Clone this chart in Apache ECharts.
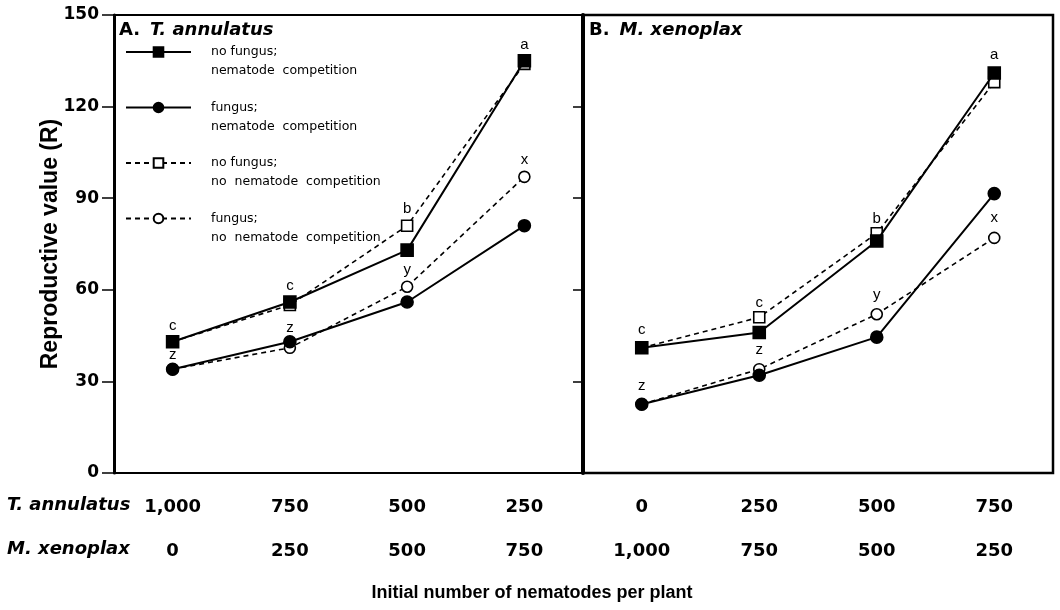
<!DOCTYPE html>
<html>
<head>
<meta charset="utf-8">
<script src="https://cdn.jsdelivr.net/npm/echarts@6/dist/echarts.min.js"></script>
<style>
html,body{margin:0;padding:0;background:#fff;}
#chart{width:1060px;height:610px;}
</style>
</head>
<body>
<div id="chart"></div>
<script>
// ---- data ----
var tAnnulatusA = ['1,000', '750', '500', '250'];
var mXenoplaxA = ['0', '250', '500', '750'];
var tAnnulatusB = ['0', '250', '500', '750'];
var mXenoplaxB = ['1,000', '750', '500', '250'];
var yTicks = [0, 30, 60, 90, 120, 150];

var seriesNames = [
  'no fungus;\nnematode  competition',
  'fungus;\nnematode  competition',
  'no fungus;\nno  nematode  competition',
  'fungus;\nno  nematode  competition'
];

// Panel A (T. annulatus)
var A_noFungusComp   = [43, 56, 73, 135];
var A_fungusComp     = [34, 43, 56, 81];
var A_noFungusNoComp = [43, 55, 81, 134];
var A_fungusNoComp   = [34, 41, 61, 97];
// Panel B (M. xenoplax)
var B_noFungusComp   = [41, 46, 76, 131];
var B_fungusComp     = [22.5, 32, 44.5, 91.5];
var B_noFungusNoComp = [41, 51, 78.5, 128];
var B_fungusNoComp   = [22.5, 34, 52, 77];

// significance letters
var A_lettersNoFungusComp   = ['c', 'c', '', 'a'];
var A_lettersFungusComp     = ['z', 'z', '', ''];
var A_lettersNoFungusNoComp = ['', '', 'b', ''];
var A_lettersFungusNoComp   = ['', '', 'y', 'x'];
var B_lettersNoFungusComp   = ['c', '', '', 'a'];
var B_lettersFungusComp     = ['z', '', '', ''];
var B_lettersNoFungusNoComp = ['', 'c', 'b', ''];
var B_lettersFungusNoComp   = ['', 'z', 'y', 'x'];

// ---- chart ----
var chart = echarts.init(document.getElementById('chart'), null, {renderer: 'canvas'});
var NUMFONT = 'DejaVu Sans';

function withLetters(vals, letters, dist) {
  return vals.map(function (v, i) {
    var item = {value: v};
    if (letters[i]) {
      item.label = {
        show: true, position: 'top', distance: dist,
        formatter: letters[i], color: '#000',
        fontFamily: 'Liberation Sans', fontSize: 15
      };
    }
    return item;
  });
}

var styles = [
  {symbol: 'rect', size: 12, fill: '#000', type: 'solid', width: 2},
  {symbol: 'circle', size: 12, fill: '#000', type: 'solid', width: 2},
  {symbol: 'rect', size: 11, fill: '#fff', type: [5, 4], width: 1.6},
  {symbol: 'circle', size: 11, fill: '#fff', type: [5, 4], width: 1.6}
];

function mk(idx, panel, vals, letters, dist) {
  var s = styles[idx];
  return {
    type: 'line',
    name: seriesNames[idx],
    xAxisIndex: panel, yAxisIndex: panel,
    data: withLetters(vals, letters, dist),
    symbol: s.symbol,
    symbolSize: s.size,
    showAllSymbol: true,
    itemStyle: {color: s.fill, borderColor: '#000', borderWidth: 1.6, opacity: 1},
    lineStyle: {color: '#000', width: s.width, type: s.type},
    label: {show: false},
    emphasis: {disabled: true},
    animation: false,
    z: idx < 2 ? 4 : 3
  };
}

var titleRich = {
  a: {fontFamily: 'DejaVu Sans', fontWeight: 'bold', fontSize: 18, color: '#000'},
  b: {fontFamily: 'DejaVu Sans', fontWeight: 'bold', fontStyle: 'italic', fontSize: 18, color: '#000'}
};

var option = {
  backgroundColor: '#fff',
  animation: false,
  title: [
    {text: '{a|A.}  {b|T. annulatus}', left: 119, top: 21, padding: 0, textStyle: {rich: titleRich}},
    {text: '{a|B.}  {b|M. xenoplax}', left: 589, top: 21, padding: 0, textStyle: {rich: titleRich}}
  ],
  legend: {
    data: seriesNames,
    orient: 'vertical',
    left: 120, top: 18.5,
    itemWidth: 65, itemHeight: 12,
    itemGap: -1.5,
    selectedMode: false,
    formatter: function (name) { return '\n' + name; },
    textStyle: {
      fontFamily: 'DejaVu Sans', fontSize: 12.5, color: '#000',
      lineHeight: 19, padding: [0, 0, 0, 15]
    }
  },
  grid: [
    {left: 114, right: 477, top: 15, bottom: 137, show: true, borderColor: '#000', borderWidth: 2, backgroundColor: 'transparent'},
    {left: 583, right: 7, top: 15, bottom: 137, show: true, borderColor: '#000', borderWidth: 2.5, backgroundColor: 'transparent'}
  ],
  xAxis: [
    {
      type: 'category', gridIndex: 0, data: tAnnulatusA, boundaryGap: true,
      axisLine: {lineStyle: {color: '#000', width: 2}},
      axisTick: {alignWithLabel: true, length: 10, lineStyle: {color: '#000', width: 1.5}},
      axisLabel: {
        margin: 12, interval: 0, color: '#000', fontFamily: NUMFONT, fontWeight: 'bold', fontSize: 18, lineHeight: 44,
        formatter: function (v, i) { return v + '\n' + mXenoplaxA[i]; }
      }
    },
    {
      type: 'category', gridIndex: 1, data: tAnnulatusB, boundaryGap: true,
      axisLine: {lineStyle: {color: '#000', width: 2}},
      axisTick: {alignWithLabel: true, length: 10, lineStyle: {color: '#000', width: 1.5}},
      axisLabel: {
        margin: 12, interval: 0, color: '#000', fontFamily: NUMFONT, fontWeight: 'bold', fontSize: 18, lineHeight: 44,
        formatter: function (v, i) { return v + '\n' + mXenoplaxB[i]; }
      }
    }
  ],
  yAxis: [
    {
      type: 'value', gridIndex: 0, min: yTicks[0], max: yTicks[yTicks.length - 1], interval: 30,
      name: 'Reproductive value (R)', nameLocation: 'middle', nameGap: 52, nameRotate: 90,
      nameMoveOverlap: false,
      nameTextStyle: {fontFamily: 'Liberation Sans', fontWeight: 'bold', fontSize: 23, color: '#000'},
      axisLine: {show: true, lineStyle: {color: '#000', width: 3}},
      axisTick: {show: true, length: 12, lineStyle: {color: '#000', width: 1.5}},
      axisLabel: {margin: 15, color: '#000', fontFamily: NUMFONT, fontWeight: 'bold', fontSize: 17},
      splitLine: {show: false}
    },
    {
      type: 'value', gridIndex: 1, min: yTicks[0], max: yTicks[yTicks.length - 1], interval: 30,
      axisLine: {show: true, lineStyle: {color: '#000', width: 4}},
      axisTick: {show: true, length: 10, lineStyle: {color: '#000', width: 1.5}},
      axisLabel: {show: false},
      splitLine: {show: false}
    }
  ],
  graphic: [
    {type: 'text', left: 7, top: 496, style: {text: 'T. annulatus', fill: '#000', font: 'italic bold 18px "DejaVu Sans"'}},
    {type: 'text', left: 7, top: 540, style: {text: 'M. xenoplax', fill: '#000', font: 'italic bold 18px "DejaVu Sans"'}},
    {type: 'text', x: 532, y: 593, style: {text: 'Initial number of nematodes per plant', fill: '#000', font: 'bold 18px "Liberation Sans"', textAlign: 'center', textVerticalAlign: 'middle'}}
  ],
  series: [
    mk(3, 0, A_fungusNoComp, A_lettersFungusNoComp, 3),
    mk(2, 0, A_noFungusNoComp, A_lettersNoFungusNoComp, 3),
    mk(1, 0, A_fungusComp, A_lettersFungusComp, 0),
    mk(0, 0, A_noFungusComp, A_lettersNoFungusComp, 2),
    mk(3, 1, B_fungusNoComp, B_lettersFungusNoComp, 6),
    mk(2, 1, B_noFungusNoComp, B_lettersNoFungusNoComp, 1),
    mk(1, 1, B_fungusComp, B_lettersFungusComp, 4),
    mk(0, 1, B_noFungusComp, B_lettersNoFungusComp, 4)
  ]
};
chart.setOption(option);
</script>
</body>
</html>
